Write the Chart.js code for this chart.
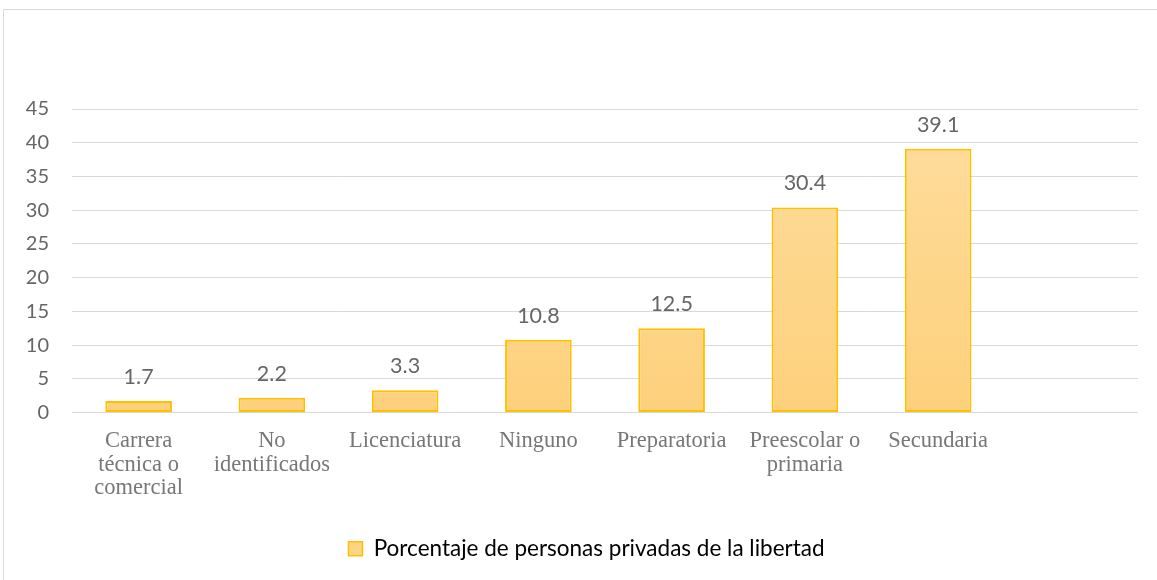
<!DOCTYPE html>
<html>
<head>
<meta charset="utf-8">
<script src="https://cdn.jsdelivr.net/npm/chart.js@4"></script>
<style>
  html, body { margin: 0; padding: 0; background: #fff; }
  #wrap { position: relative; width: 1157px; height: 580px; }
</style>
</head>
<body>
<div id="wrap"><canvas id="escolaridadChart" width="1157" height="580"></canvas></div>
<script>
// Datos
const categorias = [
  ['Carrera', 'técnica o', 'comercial'],
  ['No', 'identificados'],
  'Licenciatura',
  'Ninguno',
  'Preparatoria',
  ['Preescolar o', 'primaria'],
  'Secundaria',
  ''
];
const porcentajes = [1.7, 2.2, 3.3, 10.8, 12.5, 30.4, 39.1, null];
const ticksY = [0, 5, 10, 15, 20, 25, 30, 35, 40, 45];
const nombreSerie = 'Porcentaje de personas privadas de la libertad';

// Marco del gráfico y etiquetas de datos
const marco = {
  id: 'marco',
  afterLayout(chart) {
    // la leyenda va un poco a la derecha, como en el original
    if (chart.legend) chart.legend.left += 35;
  },
  beforeDraw(chart) {
    const c = chart.ctx;
    c.save();
    c.strokeStyle = '#d9d9d9';
    c.lineWidth = 1;
    c.beginPath();
    c.moveTo(3.5, 600);
    c.lineTo(3.5, 9.5);
    c.lineTo(1200, 9.5);
    c.stroke();
    c.restore();
  }
};

const etiquetas = {
  id: 'etiquetas',
  afterDatasetsDraw(chart) {
    const c = chart.ctx;
    const meta = chart.getDatasetMeta(0);
    c.save();
    c.font = '21.5px Lato';
    c.fillStyle = '#666666';
    c.textAlign = 'center';
    c.textBaseline = 'alphabetic';
    meta.data.forEach((bar, i) => {
      const v = porcentajes[i];
      if (v == null) return;
      c.fillText(v.toFixed(1), bar.x, bar.y - 17);
    });
    c.restore();
  }
};

function degradado(context) {
  const area = context.chart.chartArea;
  if (!area) return '#fdd484';
  const g = context.chart.ctx.createLinearGradient(0, area.top, 0, area.bottom);
  g.addColorStop(0, '#fedd9e');
  g.addColorStop(1, '#fdd07b');
  return g;
}

const ctx = document.getElementById('escolaridadChart').getContext('2d');

new Chart(ctx, {
  type: 'bar',
  data: {
    labels: categorias,
    datasets: [{
      label: nombreSerie,
      data: porcentajes,
      backgroundColor: degradado,
      borderColor: '#ffc000',
      borderWidth: 2,
      borderSkipped: false,
      barPercentage: 0.5,
      categoryPercentage: 1.0
    }]
  },
  options: {
    responsive: false,
    animation: false,
    layout: {
      padding: { left: 0, right: 19, top: 109, bottom: 10 }
    },
    plugins: {
      tooltip: { enabled: false },
      legend: {
        position: 'bottom',
        labels: {
          color: '#666666',
          font: { family: 'Lato', size: 22.5 },
          boxWidth: 14,
          boxHeight: 14,
          padding: 8,
          generateLabels(chart) {
            return [{
              text: nombreSerie,
              fillStyle: '#fdd484',
              strokeStyle: '#ffc000',
              lineWidth: 1.5,
              datasetIndex: 0
            }];
          }
        }
      }
    },
    scales: {
      x: {
        grid: { display: false, drawTicks: false },
        border: { display: false },
        ticks: {
          color: '#777777',
          font: { family: 'Liberation Serif', size: 22.5, lineHeight: 1.04 },
          padding: 17,
          maxRotation: 0,
          autoSkip: false
        },
        afterFit(scale) { scale.height = 117; }
      },
      y: {
        min: 0,
        max: 45,
        afterBuildTicks(scale) { scale.ticks = ticksY.map(v => ({ value: v })); },
        grid: { color: '#d9d9d9', lineWidth: 1, drawTicks: false },
        border: { display: false },
        ticks: {
          color: '#666666',
          font: { family: 'Lato', size: 20 },
          padding: 23
        },
        afterFit(scale) { scale.width = 72; }
      }
    }
  },
  plugins: [marco, etiquetas]
});
</script>
</body>
</html>
